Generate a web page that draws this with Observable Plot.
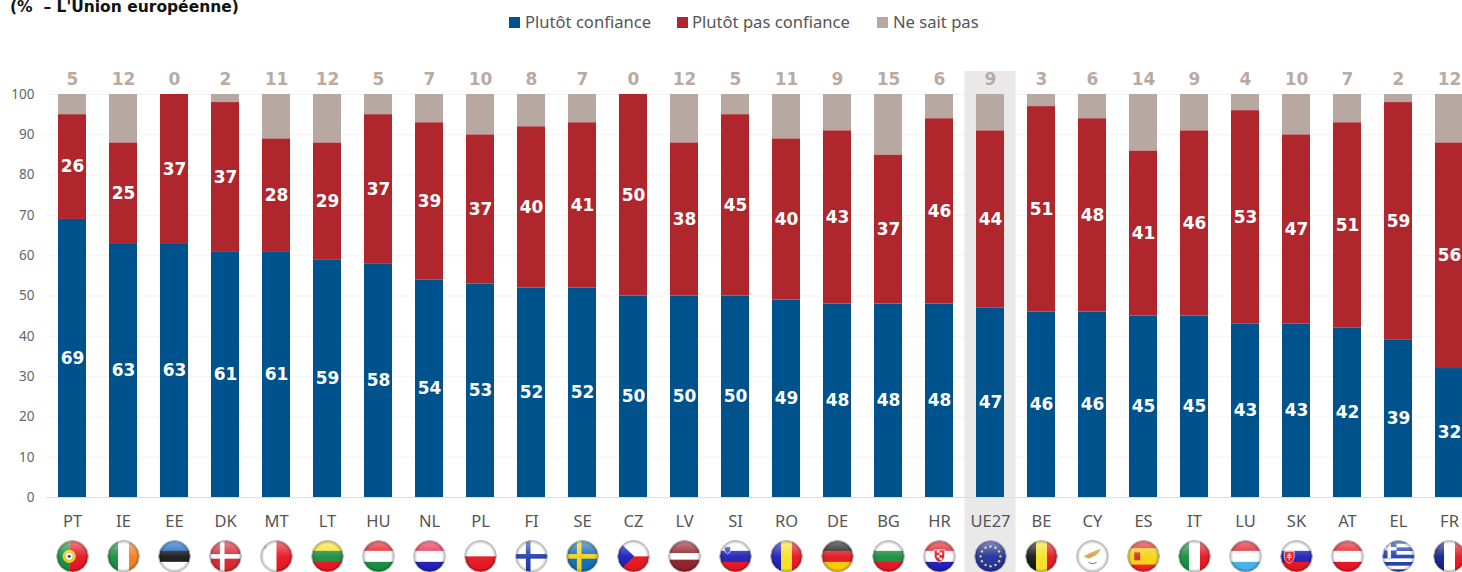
<!DOCTYPE html>
<html><head><meta charset="utf-8">
<script src="https://cdn.jsdelivr.net/npm/d3@7"></script>
<script src="https://cdn.jsdelivr.net/npm/@observablehq/plot@0.6"></script>
<style>
html,body{margin:0;padding:0;background:#fff;overflow:hidden;width:1462px;height:572px}
#head{position:relative;height:60px;width:1462px;font-family:"Noto Sans",sans-serif}
#title{position:absolute;left:10px;top:-4px;font:bold 15.5px "DejaVu Sans",sans-serif;color:#111;white-space:pre;line-height:22px}
.lg{position:absolute;top:12px;font-size:16.6px;line-height:20px;color:#555;white-space:nowrap}
.sw{position:absolute;top:17px;width:11px;height:11px}
svg{display:block}
</style></head><body>
<div id="head"><div id="title">(%  – L'Union européenne)</div></div>
<div id="chart"></div>
<script>
const countries = ["PT","IE","EE","DK","MT","LT","HU","NL","PL","FI","SE","CZ","LV","SI","RO","DE","BG","HR","UE27","BE","CY","ES","IT","LU","SK","AT","EL","FR"];
const trust    = [69,63,63,61,61,59,58,54,53,52,52,50,50,50,49,48,48,48,47,46,46,45,45,43,43,42,39,32];
const distrust = [26,25,37,37,28,29,37,39,37,40,41,50,38,45,40,43,37,46,44,51,48,41,46,53,47,51,59,56];
const dontKnow = [5,12,0,2,11,12,5,7,10,8,7,0,12,5,11,9,15,6,9,3,6,14,9,4,10,7,2,12];
const seriesNames = ["Plutôt confiance","Plutôt pas confiance","Ne sait pas"];
const seriesColors = ["#00528c","#b0262d","#b7a9a1"];
const yTicks = [0,10,20,30,40,50,60,70,80,90,100];
const highlight = ["UE27"];
const legendX = [[509,525],[677,692],[877,893]];

const R="#e2101c",W="#fff",B="#1a1ab4",G="#128a3a",Y="#f8e020",K="#111";
const h=(...c)=>c.map((col,i)=>`<rect x="0" y="${i*100/c.length}" width="100" height="${100/c.length+.5}" fill="${col}"/>`).join("");
const v=(...c)=>c.map((col,i)=>`<rect y="0" x="${i*100/c.length}" height="100" width="${100/c.length+.5}" fill="${col}"/>`).join("");
const cross=(bg,fg,cx=40)=>`<rect width="100" height="100" fill="${bg}"/><rect x="${cx-7}" width="14" height="100" fill="${fg}"/><rect y="43" width="100" height="14" fill="${fg}"/>`;
const shield=(x,y,s,c)=>`<path d="M${x-s} ${y-s}h${2*s}v${s}q0 ${s} ${-s} ${1.4*s}q${-s} ${-.4*s} ${-s} ${-1.4*s}z" fill="${c}" stroke="#fff" stroke-width="2"/>`;
const stars=d3.range(12).map(i=>`<circle cx="${50+30*Math.cos(i*Math.PI/6)}" cy="${50+30*Math.sin(i*Math.PI/6)}" r="3.6" fill="#f5d90a"/>`).join("");
const flags={
 PT:`<rect width="40" height="100" fill="${G}"/><rect x="40" width="60" height="100" fill="${R}"/><circle cx="40" cy="50" r="20" fill="#e8c820"/><circle cx="40" cy="50" r="10" fill="#fff"/><circle cx="40" cy="50" r="5" fill="#2040b0"/>`,
 IE:v(G,W,"#f07a18"),EE:h("#1060c0",K,W),DK:cross("#d62028",W),MT:v(W,R)+`<rect x="8" y="15" width="12" height="12" fill="#bbb"/>`,
 LT:h(Y,G,R),HU:h(R,W,G),NL:h("#e8204a",W,B),PL:h(W,R),FI:cross(W,"#1a3aa8"),SE:cross("#0a6ab0","#f8d010"),
 CZ:h(W,R)+`<path d="M0 0L52 50L0 100z" fill="#1018b8"/>`,LV:`<rect width="100" height="100" fill="#8c1c24"/><rect y="40" width="100" height="20" fill="#fff"/>`,
 SI:h(W,B,R)+shield(26,30,9,"#1a3ab4"),RO:v(B,Y,R),DE:h(K,R,"#f8c800"),BG:h(W,G,R),
 HR:h(R,W,B)+shield(50,46,16,R)+`<path d="M42 30h8v8h-8zM50 38h8v8h-8zM42 46h8v8h-8zM50 54h8v8h-8z" fill="#fff"/>`,
 UE27:`<rect width="100" height="100" fill="#1a2a9c"/>`+stars,
 BE:v(K,Y,R),CY:`<rect width="100" height="100" fill="#fff"/><path d="M24 50q14-10 52-24q-8 18-22 24q-12 8-20 6z" fill="#d8a040"/><path d="M38 68q12 8 24 0" stroke="#6a9a50" stroke-width="4" fill="none"/>`,
 ES:`<rect width="100" height="100" fill="#e8201c"/><rect y="25" width="100" height="50" fill="#f8d010"/><rect x="22" y="38" width="18" height="24" fill="#c8301c"/>`,
 IT:v(G,W,R),LU:h(R,W,"#40b0e8"),SK:h(W,B,R)+shield(28,50,15,R)+`<path d="M28 40v22M22 47h12M20 53h16" stroke="#fff" stroke-width="3"/>`,
 AT:h(R,W,R),
 EL:`<rect width="100" height="100" fill="#fff"/>`+[0,2,4,6,8].map(i=>`<rect y="${i*100/9+ .5}" width="100" height="11.1" fill="#1a3ab4"/>`).join("")+`<rect width="44" height="55" fill="#1a3ab4"/><rect x="17" width="10" height="55" fill="#fff"/><rect y="22" width="44" height="10" fill="#fff"/>`,
 FR:v("#101a8c",W,R)
};
function flagSrc(code){
 const s=`<svg xmlns="http://www.w3.org/2000/svg" viewBox="0 0 100 100"><defs><clipPath id="c"><circle cx="50" cy="50" r="48"/></clipPath>
<radialGradient id="d" cx=".5" cy=".5" r=".5"><stop offset=".75" stop-color="#000" stop-opacity="0"/><stop offset="1" stop-color="#000" stop-opacity=".35"/></radialGradient>
<linearGradient id="g" x1="0" y1="0" x2="0" y2="1"><stop offset="0" stop-color="#fff" stop-opacity=".5"/><stop offset=".5" stop-color="#fff" stop-opacity=".08"/><stop offset="1" stop-color="#fff" stop-opacity="0"/></linearGradient></defs>
<g clip-path="url(#c)">${flags[code]}<rect width="100" height="100" fill="url(#g)"/><rect width="100" height="100" fill="url(#d)"/></g>
<circle cx="50" cy="50" r="48" fill="none" stroke="#bbb" stroke-width="3"/></svg>`;
 return "data:image/svg+xml,"+encodeURIComponent(s);
}

const rows = countries.map((c,i)=>({c,a:trust[i],b:distrust[i],n:dontKnow[i]}));
const long = rows.flatMap(r=>[
 {c:r.c,s:seriesNames[0],v:r.a},{c:r.c,s:seriesNames[1],v:r.b},{c:r.c,s:seriesNames[2],v:r.n}]);
const labelled = long.filter(d=>d.s!==seriesNames[2]);
const stackOpts = {x:"c",y:"v",z:"s",order:seriesNames};
const bodyFont = '"Noto Sans",sans-serif';

const head=document.getElementById("head");
seriesNames.forEach((n,i)=>{
 const sw=document.createElement("div");sw.className="sw";sw.style.left=legendX[i][0]+"px";sw.style.background=seriesColors[i];head.append(sw);
 const t=document.createElement("div");t.className="lg";t.style.left=legendX[i][1]+"px";t.textContent=n;head.append(t);
});

const chart = Plot.plot({
 width:1462,height:512,marginLeft:46,marginRight:0,marginTop:34,marginBottom:75,
 style:{fontFamily:bodyFont,background:"transparent",overflow:"hidden"},
 x:{domain:countries,range:[46.5,1474.5],paddingInner:0.45,paddingOuter:0.225,align:.5,round:false,label:null},
 y:{domain:[0,100],label:null},
 color:{domain:seriesNames,range:seriesColors},
 marks:[
  Plot.gridY(yTicks.slice(1),{stroke:"#f3f3f3",strokeOpacity:1}),
  Plot.barY(highlight,{x:d=>d,y1:()=>-18.6,y2:()=>105.7,fill:"#e9e9e9",insetLeft:-11.5,insetRight:-11.5}),
  Plot.barY(long,Plot.stackY({...stackOpts,fill:"s"})),
  Plot.ruleY([0],{stroke:"#ddd"}),
  Plot.axisY(yTicks,{anchor:"left",tickSize:0,tickPadding:12,fontSize:13.5,color:"#666",label:null,tickFormat:d=>d}),
  Plot.axisX({anchor:"bottom",tickSize:0,tickPadding:18,fontSize:16.5,color:"#555",label:null}),
  Plot.text(labelled,Plot.stackY({...stackOpts,text:"v",fill:"#fff",fontSize:17,fontWeight:"bold",fontFamily:'"DejaVu Sans",sans-serif'})),
  Plot.text(rows,{x:"c",y:()=>100,dy:-15,text:"n",fill:"#b9aaa2",fontSize:17,fontWeight:"bold",fontFamily:'"DejaVu Sans",sans-serif'}),
  Plot.image(countries,{x:d=>d,y:()=>-14.6,src:flagSrc,width:33,height:33})
 ]
});
document.getElementById("chart").append(chart);
</script>
</body></html>
